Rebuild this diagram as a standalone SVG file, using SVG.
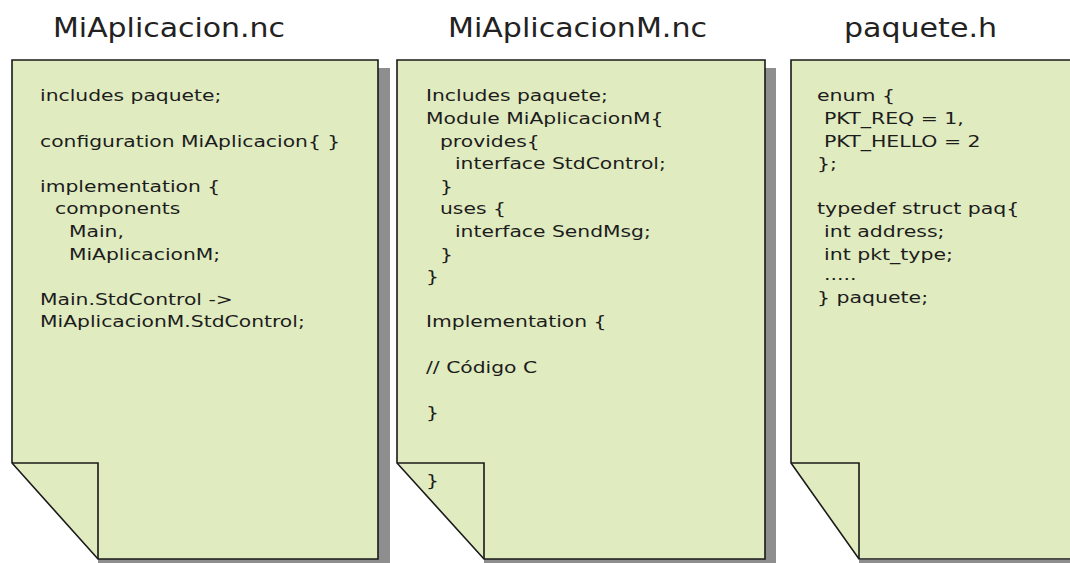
<svg xmlns="http://www.w3.org/2000/svg" width="1070" height="563" viewBox="0 0 1070 563">
  <style>
    .title { font-family: "DejaVu Sans", Verdana, sans-serif; font-size: 26px; fill: #222; }
    .code { font-family: "DejaVu Sans", Tahoma, sans-serif; font-size: 16px; fill: #1c1c1c; }
    .page { fill: #e0ebc0; stroke: #1a1a1a; stroke-width: 1.6; stroke-linejoin: miter; }
    .fold { fill: none; stroke: #1a1a1a; stroke-width: 1.6; }
    .shadow { fill: #8e8e8e; }
  </style>

  <rect width="1070" height="563" fill="#ffffff"/>

  <!-- file names -->
  <text class="title" x="53" y="37" textLength="232" lengthAdjust="spacingAndGlyphs">MiAplicacion.nc</text>
  <text class="title" x="448" y="37" textLength="259" lengthAdjust="spacingAndGlyphs">MiAplicacionM.nc</text>
  <text class="title" x="844" y="37" textLength="153" lengthAdjust="spacingAndGlyphs">paquete.h</text>

  <!-- configuration file -->
  <g id="doc-miaplicacion">
    <rect class="shadow" x="98" y="68" width="292" height="500"/>
    <polygon class="page" points="12,60 378,60 378,559 98,559 12,463"/>
    <polyline class="fold" points="12,463 98,463 98,559"/>
    <g class="code" transform="translate(40,0) scale(1.27,1)">
      <text x="0" y="101.5">includes paquete;</text>
      <text x="0" y="146.7">configuration MiAplicacion{ }</text>
      <text x="0" y="192">implementation {</text>
      <text x="11.8" y="214.5">components</text>
      <text x="22.8" y="237">Main,</text>
      <text x="22.8" y="259.7">MiAplicacionM;</text>
      <text x="0" y="305">Main.StdControl -&gt;</text>
      <text x="0" y="327.5">MiAplicacionM.StdControl;</text>
    </g>
  </g>

  <!-- module file -->
  <g id="doc-miaplicacionm">
    <rect class="shadow" x="484" y="68" width="292" height="500"/>
    <polygon class="page" points="397,60 765,60 765,559 484,559 397,463"/>
    <polyline class="fold" points="397,463 484,463 484,559"/>
    <g class="code" transform="translate(426,0) scale(1.27,1)">
      <text x="0" y="101.5">Includes paquete;</text>
      <text x="0" y="124.1">Module MiAplicacionM{</text>
      <text x="11" y="146.7">provides{</text>
      <text x="22.8" y="169.3">interface StdControl;</text>
      <text x="11" y="191.9">}</text>
      <text x="11" y="214.5">uses {</text>
      <text x="22.8" y="237.1">interface SendMsg;</text>
      <text x="11" y="259.7">}</text>
      <text x="0" y="282.3">}</text>
      <text x="0" y="327.5">Implementation {</text>
      <text x="0" y="372.7">// Código C</text>
      <text x="0" y="417.9">}</text>
      <text x="0" y="485.7">}</text>
    </g>
  </g>

  <!-- header file -->
  <g id="doc-paquete">
    <polygon class="page" points="791,60 1090,60 1090,559 859,559 791,463"/>
    <rect class="shadow" x="859" y="560" width="230" height="8"/>
    <polyline class="fold" points="791,463 859,463 859,559"/>
    <g class="code" transform="translate(817,0) scale(1.28,1)">
      <text x="0" y="101.5">enum {</text>
      <text x="5.5" y="124.1">PKT_REQ = 1,</text>
      <text x="5.5" y="146.7">PKT_HELLO = 2</text>
      <text x="0" y="169.3">};</text>
      <text x="0" y="214.5">typedef struct paq{</text>
      <text x="5.5" y="237.1">int address;</text>
      <text x="5.5" y="259.7">int pkt_type;</text>
      <text x="5.5" y="280.3">.....</text>
      <text x="0" y="303">} paquete;</text>
    </g>
  </g>
</svg>
